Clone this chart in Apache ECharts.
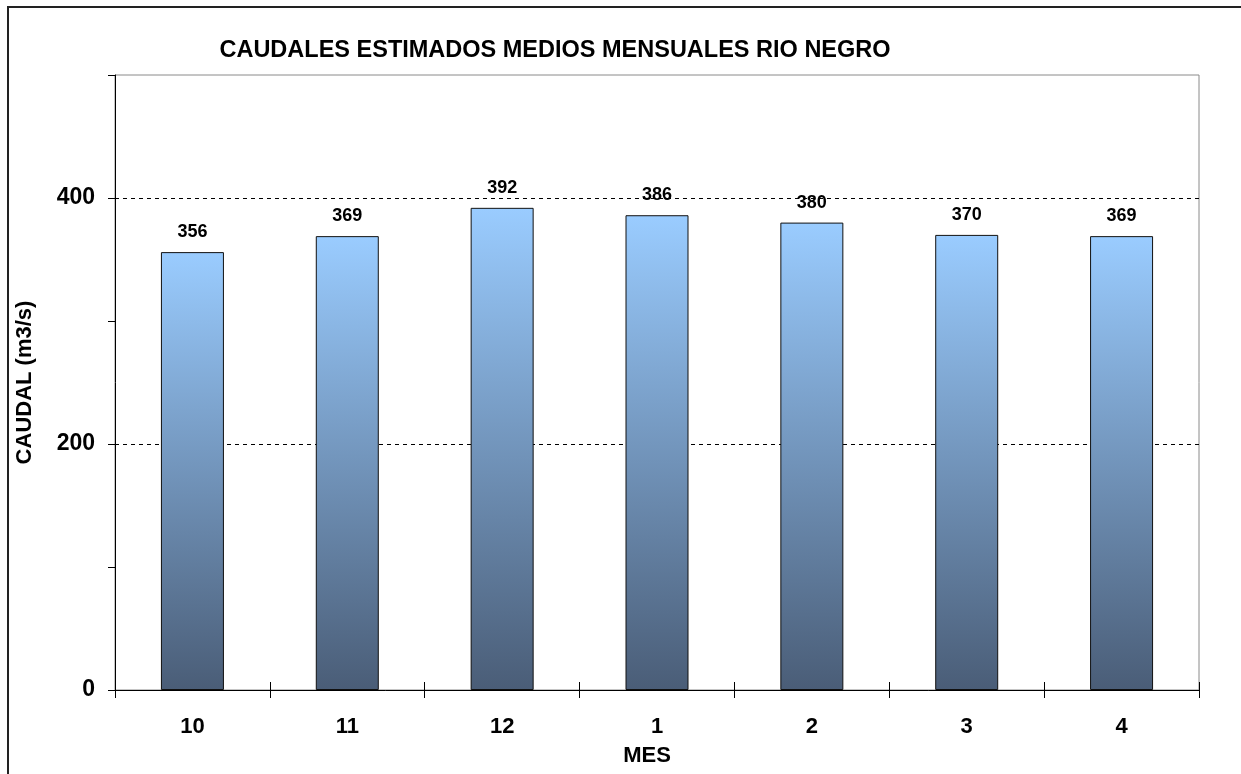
<!DOCTYPE html>
<html>
<head>
<meta charset="utf-8">
<script src="https://cdn.jsdelivr.net/npm/echarts@6/dist/echarts.min.js"></script>
<style>
  html, body { margin: 0; padding: 0; background: #fff; }
  #chart { width: 1241px; height: 774px; }
</style>
</head>
<body>
<div id="chart"></div>
<script>
// Monthly mean estimated flow, Río Negro (m3/s), Oct–Apr
const months = ['10', '11', '12', '1', '2', '3', '4'];
const flows = [356, 369, 392, 386, 380, 370, 369];

const FONT = '"Liberation Sans", Arial, sans-serif';

const chart = echarts.init(document.getElementById('chart'), null, { renderer: 'canvas' });

const barFill = new echarts.graphic.LinearGradient(0, 0, 0, 1, [
  { offset: 0, color: '#9ACCFF' },
  { offset: 1, color: '#4A5D77' }
]);

chart.setOption({
  backgroundColor: '#ffffff',
  animation: false,
  title: {
    text: 'CAUDALES ESTIMADOS MEDIOS MENSUALES RIO NEGRO',
    left: 550,
    textAlign: 'center',
    top: 34,
    textStyle: { fontFamily: FONT, fontWeight: 'bold', fontSize: 23.5, color: '#000' }
  },
  graphic: [{
    type: 'rect',
    shape: { x: 8, y: 7, width: 1250, height: 800 },
    style: { fill: 'none', stroke: '#222', lineWidth: 2 },
    silent: true
  }],
  grid: {
    left: 115, right: 42, top: 75, bottom: 84,
    show: true, borderColor: '#8a8a8a', borderWidth: 1, backgroundColor: 'transparent'
  },
  xAxis: [{
    type: 'category',
    data: months,
    position: 'bottom',
    axisLine: { show: true, lineStyle: { color: '#000', width: 1 } },
    axisTick: { show: true, inside: false, length: 8, lineStyle: { color: '#000' } },
    axisLabel: { fontFamily: FONT, fontWeight: 'bold', fontSize: 22, color: '#000', margin: 26 },
    name: 'MES',
    nameLocation: 'middle',
    nameGap: 55,
    nameTextStyle: { fontFamily: FONT, fontWeight: 'bold', fontSize: 22, color: '#000', padding: [0, 20, 0, 0] }
  }, {
    type: 'category',
    data: months,
    position: 'bottom',
    axisLine: { show: false },
    axisTick: { show: true, inside: true, length: 8, lineStyle: { color: '#000' } },
    axisLabel: { show: false }
  }],
  yAxis: [{
    type: 'value',
    min: 0, max: 500, interval: 100,
    position: 'left',
    axisLine: { show: true, lineStyle: { color: '#000', width: 1 } },
    axisTick: { show: true, inside: false, length: 7, lineStyle: { color: '#000' } },
    axisLabel: { show: false },
    splitLine: { show: false }
  }, {
    type: 'value',
    min: 0, max: 500, interval: 200,
    position: 'left',
    axisLine: { show: false },
    axisTick: { show: false },
    axisLabel: { fontFamily: FONT, fontWeight: 'bold', fontSize: 23, color: '#000', margin: 20, showMaxLabel: false },
    splitLine: {
      show: true, showMinLine: false, showMaxLine: false,
      lineStyle: { color: '#000', type: [4, 4], width: 1 }
    },
    name: 'CAUDAL (m3/s)',
    nameLocation: 'middle',
    nameGap: 79,
    nameRotate: 90,
    nameTextStyle: { fontFamily: FONT, fontWeight: 'bold', fontSize: 22, color: '#000' }
  }],
  series: [{
    type: 'bar',
    data: flows,
    xAxisIndex: 0,
    yAxisIndex: 0,
    barWidth: 63,
    itemStyle: { color: barFill, borderColor: '#111', borderWidth: 1 },
    label: {
      show: true,
      position: 'top',
      distance: 11,
      fontFamily: FONT, fontWeight: 'bold', fontSize: 18, color: '#000'
    },
    z: 3
  }]
});
</script>
</body>
</html>
